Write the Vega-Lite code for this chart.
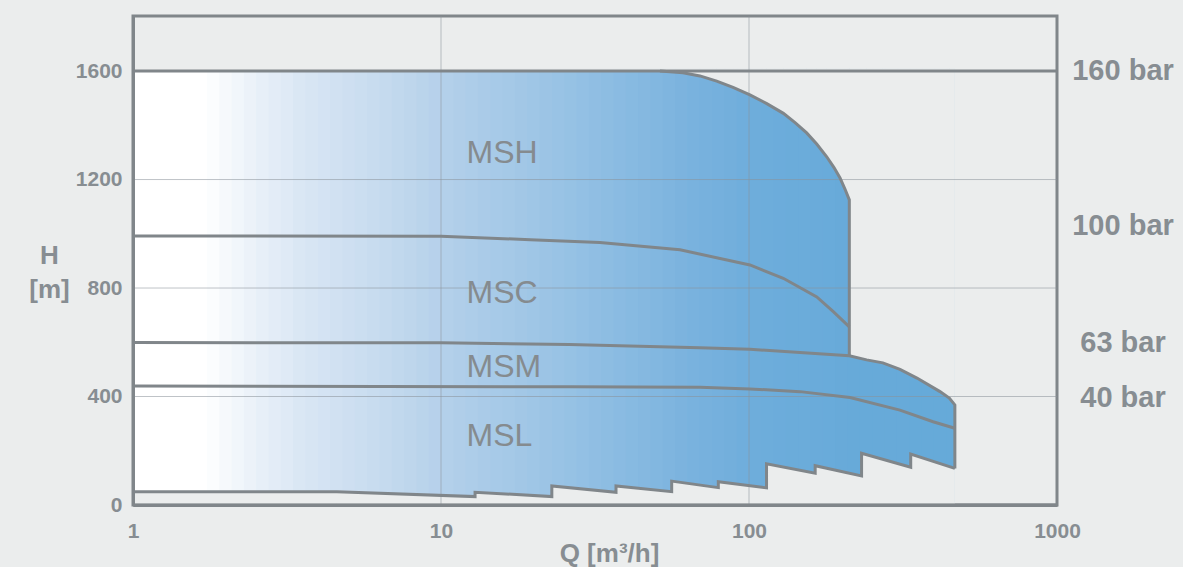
{
  "$schema": "https://vega.github.io/schema/vega-lite/v6.json",
  "width": 924,
  "height": 489,
  "autosize": {"type": "none"},
  "padding": {"left": 133, "top": 16, "right": 126, "bottom": 62},
  "background": "#ebeded",
  "config": {
    "view": {"stroke": "#80868a", "strokeWidth": 3, "fill": null},
    "font": "Liberation Sans",
    "axis": {
      "labelFont": "Liberation Sans",
      "labelFontSize": 21,
      "labelFontWeight": "bold",
      "labelColor": "#878d92",
      "titleFont": "Liberation Sans",
      "titleFontSize": 26,
      "titleFontWeight": "bold",
      "titleColor": "#878d92",
      "grid": false,
      "ticks": false,
      "tickSize": 0,
      "domain": true,
      "domainColor": "#80868a",
      "domainWidth": 3
    }
  },
  "datasets": {
    "shade": [
      {"Q": 1.012, "Q2": 1.1097}, {"Q": 1.0965, "Q2": 1.2167}, {"Q": 1.2023, "Q2": 1.3341}, {"Q": 1.3183, "Q2": 1.4627},
      {"Q": 1.4454, "Q2": 1.6039}, {"Q": 1.5849, "Q2": 1.7587}, {"Q": 1.7378, "Q2": 1.9284}, {"Q": 1.9055, "Q2": 2.1144},
      {"Q": 2.0893, "Q2": 2.3184}, {"Q": 2.2909, "Q2": 2.542}, {"Q": 2.5119, "Q2": 2.7872}, {"Q": 2.7542, "Q2": 3.0562},
      {"Q": 3.02, "Q2": 3.351}, {"Q": 3.3113, "Q2": 3.6744}, {"Q": 3.6308, "Q2": 4.0289}, {"Q": 3.9811, "Q2": 4.4176},
      {"Q": 4.3652, "Q2": 4.8437}, {"Q": 4.7863, "Q2": 5.3111}, {"Q": 5.2481, "Q2": 5.8235}, {"Q": 5.7544, "Q2": 6.3853},
      {"Q": 6.3096, "Q2": 7.0013}, {"Q": 6.9183, "Q2": 7.6768}, {"Q": 7.5858, "Q2": 8.4174}, {"Q": 8.3176, "Q2": 9.2295},
      {"Q": 9.1201, "Q2": 10.12}, {"Q": 10, "Q2": 11.097}, {"Q": 10.965, "Q2": 12.167}, {"Q": 12.023, "Q2": 13.341},
      {"Q": 13.183, "Q2": 14.627}, {"Q": 14.454, "Q2": 16.039}, {"Q": 15.849, "Q2": 17.587}, {"Q": 17.378, "Q2": 19.284},
      {"Q": 19.055, "Q2": 21.144}, {"Q": 20.893, "Q2": 23.184}, {"Q": 22.909, "Q2": 25.42}, {"Q": 25.119, "Q2": 27.872},
      {"Q": 27.542, "Q2": 30.562}, {"Q": 30.2, "Q2": 33.51}, {"Q": 33.113, "Q2": 36.744}, {"Q": 36.308, "Q2": 40.289},
      {"Q": 39.811, "Q2": 44.176}, {"Q": 43.652, "Q2": 48.437}, {"Q": 47.863, "Q2": 53.111}, {"Q": 52.481, "Q2": 58.235},
      {"Q": 57.544, "Q2": 63.853}, {"Q": 63.096, "Q2": 70.013}, {"Q": 69.183, "Q2": 76.768}, {"Q": 75.858, "Q2": 84.174},
      {"Q": 83.176, "Q2": 92.295}, {"Q": 91.201, "Q2": 101.2}, {"Q": 100, "Q2": 110.97}, {"Q": 109.65, "Q2": 121.67},
      {"Q": 120.23, "Q2": 133.41}, {"Q": 131.83, "Q2": 146.27}, {"Q": 144.54, "Q2": 160.39}, {"Q": 158.49, "Q2": 175.87},
      {"Q": 173.78, "Q2": 192.84}, {"Q": 190.55, "Q2": 211.44}, {"Q": 208.93, "Q2": 231.84}, {"Q": 229.09, "Q2": 254.2},
      {"Q": 251.19, "Q2": 278.72}, {"Q": 275.42, "Q2": 305.62}, {"Q": 302, "Q2": 335.1}, {"Q": 331.13, "Q2": 367.44},
      {"Q": 363.08, "Q2": 402.89}, {"Q": 398.11, "Q2": 441.76}, {"Q": 436.52, "Q2": 466}
    ],
    "envTop": [
      {"Q": 1, "H": 1600},
      {"Q": 51.4, "H": 1600},
      {"Q": 61.06, "H": 1594},
      {"Q": 69.3, "H": 1582},
      {"Q": 78.55, "H": 1563},
      {"Q": 88.76, "H": 1540},
      {"Q": 100.7, "H": 1512},
      {"Q": 114.2, "H": 1480},
      {"Q": 129.3, "H": 1444},
      {"Q": 141.1, "H": 1410},
      {"Q": 153.9, "H": 1372},
      {"Q": 165.9, "H": 1331},
      {"Q": 178.8, "H": 1284},
      {"Q": 188.8, "H": 1244},
      {"Q": 197.5, "H": 1206},
      {"Q": 204.9, "H": 1165},
      {"Q": 211.7, "H": 1125},
      {"Q": 211.8, "H": 550},
      {"Q": 241, "H": 535},
      {"Q": 272, "H": 524},
      {"Q": 309.2, "H": 500},
      {"Q": 351, "H": 468},
      {"Q": 417, "H": 418},
      {"Q": 447, "H": 394},
      {"Q": 466, "H": 369}
    ],
    "envBottom": [
      {"Q": 1.012, "H": 49},
      {"Q": 4.59, "H": 49},
      {"Q": 12.9, "H": 31},
      {"Q": 12.91, "H": 47},
      {"Q": 22.9, "H": 31},
      {"Q": 22.91, "H": 70},
      {"Q": 37, "H": 47},
      {"Q": 37.02, "H": 70},
      {"Q": 56.1, "H": 49},
      {"Q": 56.13, "H": 88},
      {"Q": 79.5, "H": 64},
      {"Q": 79.54, "H": 86},
      {"Q": 114, "H": 63},
      {"Q": 114.05, "H": 152},
      {"Q": 164, "H": 117},
      {"Q": 164.08, "H": 145},
      {"Q": 232, "H": 107},
      {"Q": 232.1, "H": 191},
      {"Q": 335, "H": 139},
      {"Q": 335.15, "H": 188},
      {"Q": 466, "H": 135}
    ],
    "curves": [
      {"s": "floor", "i": 0, "Q": 1, "H": 0},
      {"s": "floor", "i": 1, "Q": 1000, "H": 0},
      {"s": "top", "i": 0, "Q": 1, "H": 1600},
      {"s": "top", "i": 1, "Q": 1000, "H": 1600},
      {"s": "MSH", "i": 0, "Q": 51.4, "H": 1600},
      {"s": "MSH", "i": 1, "Q": 61.06, "H": 1594},
      {"s": "MSH", "i": 2, "Q": 69.3, "H": 1582},
      {"s": "MSH", "i": 3, "Q": 78.55, "H": 1563},
      {"s": "MSH", "i": 4, "Q": 88.76, "H": 1540},
      {"s": "MSH", "i": 5, "Q": 100.7, "H": 1512},
      {"s": "MSH", "i": 6, "Q": 114.2, "H": 1480},
      {"s": "MSH", "i": 7, "Q": 129.3, "H": 1444},
      {"s": "MSH", "i": 8, "Q": 141.1, "H": 1410},
      {"s": "MSH", "i": 9, "Q": 153.9, "H": 1372},
      {"s": "MSH", "i": 10, "Q": 165.9, "H": 1331},
      {"s": "MSH", "i": 11, "Q": 178.8, "H": 1284},
      {"s": "MSH", "i": 12, "Q": 188.8, "H": 1244},
      {"s": "MSH", "i": 13, "Q": 197.5, "H": 1206},
      {"s": "MSH", "i": 14, "Q": 204.9, "H": 1165},
      {"s": "MSH", "i": 15, "Q": 211.7, "H": 1125},
      {"s": "MSH", "i": 16, "Q": 211.7, "H": 550},
      {"s": "MSC", "i": 0, "Q": 1, "H": 992},
      {"s": "MSC", "i": 1, "Q": 10, "H": 991},
      {"s": "MSC", "i": 2, "Q": 19.5, "H": 978},
      {"s": "MSC", "i": 3, "Q": 32.8, "H": 968},
      {"s": "MSC", "i": 4, "Q": 59.7, "H": 941},
      {"s": "MSC", "i": 5, "Q": 100.7, "H": 885},
      {"s": "MSC", "i": 6, "Q": 129.2, "H": 836},
      {"s": "MSC", "i": 7, "Q": 166, "H": 767},
      {"s": "MSC", "i": 8, "Q": 187.8, "H": 713},
      {"s": "MSC", "i": 9, "Q": 211.7, "H": 657},
      {"s": "MSM", "i": 0, "Q": 1, "H": 599},
      {"s": "MSM", "i": 1, "Q": 10, "H": 598},
      {"s": "MSM", "i": 2, "Q": 26.1, "H": 592},
      {"s": "MSM", "i": 3, "Q": 69.3, "H": 580},
      {"s": "MSM", "i": 4, "Q": 100.7, "H": 574},
      {"s": "MSM", "i": 5, "Q": 211.7, "H": 550},
      {"s": "MSM", "i": 6, "Q": 241, "H": 535},
      {"s": "MSM", "i": 7, "Q": 272, "H": 524},
      {"s": "MSM", "i": 8, "Q": 309.2, "H": 500},
      {"s": "MSM", "i": 9, "Q": 351, "H": 468},
      {"s": "MSM", "i": 10, "Q": 417, "H": 418},
      {"s": "MSM", "i": 11, "Q": 447, "H": 394},
      {"s": "MSM", "i": 12, "Q": 466, "H": 369},
      {"s": "MSM", "i": 13, "Q": 466, "H": 135},
      {"s": "MSL", "i": 0, "Q": 1, "H": 439},
      {"s": "MSL", "i": 1, "Q": 26.1, "H": 436},
      {"s": "MSL", "i": 2, "Q": 69.3, "H": 434},
      {"s": "MSL", "i": 3, "Q": 100.7, "H": 428},
      {"s": "MSL", "i": 4, "Q": 146.5, "H": 418},
      {"s": "MSL", "i": 5, "Q": 212.8, "H": 396},
      {"s": "MSL", "i": 6, "Q": 309, "H": 350},
      {"s": "MSL", "i": 7, "Q": 396, "H": 307},
      {"s": "MSL", "i": 8, "Q": 466, "H": 283},
      {"s": "base", "i": 0, "Q": 1, "H": 49},
      {"s": "base", "i": 1, "Q": 4.59, "H": 49},
      {"s": "base", "i": 2, "Q": 12.9, "H": 31},
      {"s": "base", "i": 3, "Q": 12.9, "H": 47},
      {"s": "base", "i": 4, "Q": 22.9, "H": 31},
      {"s": "base", "i": 5, "Q": 22.9, "H": 70},
      {"s": "base", "i": 6, "Q": 37, "H": 47},
      {"s": "base", "i": 7, "Q": 37, "H": 70},
      {"s": "base", "i": 8, "Q": 56.1, "H": 49},
      {"s": "base", "i": 9, "Q": 56.1, "H": 88},
      {"s": "base", "i": 10, "Q": 79.5, "H": 64},
      {"s": "base", "i": 11, "Q": 79.5, "H": 86},
      {"s": "base", "i": 12, "Q": 114, "H": 63},
      {"s": "base", "i": 13, "Q": 114, "H": 152},
      {"s": "base", "i": 14, "Q": 164, "H": 117},
      {"s": "base", "i": 15, "Q": 164, "H": 145},
      {"s": "base", "i": 16, "Q": 232, "H": 107},
      {"s": "base", "i": 17, "Q": 232, "H": 191},
      {"s": "base", "i": 18, "Q": 335, "H": 139},
      {"s": "base", "i": 19, "Q": 335, "H": 188},
      {"s": "base", "i": 20, "Q": 466, "H": 135}
    ],
    "gridx": [{"Q": 10}, {"Q": 100}],
    "gridy": [{"H": 400}, {"H": 800}, {"H": 1200}],
    "regions": [
      {"Q": 12.1, "H": 1260, "label": "MSH"},
      {"Q": 12.1, "H": 746, "label": "MSC"},
      {"Q": 12.1, "H": 471, "label": "MSM"},
      {"Q": 12.1, "H": 218, "label": "MSL"}
    ],
    "pressure": [
      {"Q": 1000, "H": 1600, "label": "160 bar"},
      {"Q": 1000, "H": 1030, "label": "100 bar"},
      {"Q": 1000, "H": 596, "label": "63 bar"},
      {"Q": 1000, "H": 394, "label": "40 bar"}
    ]
  },
  "layer": [
    {
      "data": {"name": "shade"},
      "mark": {"type": "rect", "opacity": 1},
      "encoding": {
        "x": {
          "field": "Q", "type": "quantitative",
          "scale": {"type": "log", "domain": [1, 1000], "nice": false},
          "axis": {
            "values": [1, 10, 100, 1000],
            "format": "d",
            "labelPadding": 15,
            "labelFlush": false,
            "title": "Q [m³/h]",
            "titleX": 476,
            "titleY": 56,
            "titleAlign": "center",
            "titleBaseline": "alphabetic",
            "zindex": 2
          }
        },
        "x2": {"field": "Q2"},
        "y": {
          "datum": 7, "type": "quantitative",
          "scale": {"domain": [0, 1803], "nice": false, "zero": true},
          "axis": {
            "values": [0, 400, 800, 1200, 1600],
            "format": "d",
            "labelPadding": 11,
            "title": ["H", "[m]"],
            "titleAngle": 0,
            "titleX": -84,
            "titleY": 247,
            "titleAlign": "center",
            "titleBaseline": "alphabetic",
            "titleLineHeight": 34,
            "zindex": 2
          }
        },
        "y2": {"datum": 1610},
        "fill": {
          "field": "Q", "type": "quantitative", "legend": null,
          "scale": {
            "type": "log",
            "domain": [1, 1.63, 2.36, 3.42, 6.32, 9.72, 26, 59, 100, 209, 466],
            "range": ["#ffffff", "#ffffff", "#eaf1f9", "#d9e6f4", "#c5daee", "#b4d0ea", "#95c1e4", "#7bb3de", "#6eaddb", "#67aad9", "#66aad9"],
            "interpolate": "rgb"
          }
        }
      }
    },
    {
      "data": {"name": "envTop"},
      "mark": {"type": "area", "orient": "vertical", "fill": "#ebeded", "fillOpacity": 1, "stroke": "#ebeded", "strokeWidth": 1},
      "encoding": {
        "x": {"field": "Q", "type": "quantitative", "scale": {"type": "log", "domain": [1, 1000], "nice": false}},
        "y": {"field": "H", "type": "quantitative", "stack": null, "scale": {"domain": [0, 1803], "nice": false, "zero": true}},
        "y2": {"datum": 1610}
      }
    },
    {
      "data": {"name": "envBottom"},
      "mark": {"type": "area", "orient": "vertical", "fill": "#ebeded", "fillOpacity": 1, "stroke": "#ebeded", "strokeWidth": 1},
      "encoding": {
        "x": {"field": "Q", "type": "quantitative", "scale": {"type": "log", "domain": [1, 1000], "nice": false}},
        "y": {"field": "H", "type": "quantitative", "stack": null, "scale": {"domain": [0, 1803], "nice": false, "zero": true}},
        "y2": {"datum": 7}
      }
    },
    {
      "data": {"name": "gridx"},
      "mark": {"type": "rule", "color": "#8a9299", "opacity": 0.55, "strokeWidth": 1},
      "encoding": {
        "x": {"field": "Q", "type": "quantitative", "scale": {"type": "log", "domain": [1, 1000], "nice": false}}
      }
    },
    {
      "data": {"name": "gridy"},
      "mark": {"type": "rule", "color": "#8a9299", "opacity": 0.55, "strokeWidth": 1},
      "encoding": {
        "y": {"field": "H", "type": "quantitative", "scale": {"domain": [0, 1803], "nice": false, "zero": true}}
      }
    },
    {
      "data": {"name": "curves"},
      "mark": {"type": "line", "color": "#80868a", "strokeWidth": 3, "strokeJoin": "miter"},
      "encoding": {
        "x": {"field": "Q", "type": "quantitative", "scale": {"type": "log", "domain": [1, 1000], "nice": false}},
        "y": {"field": "H", "type": "quantitative", "scale": {"domain": [0, 1803], "nice": false, "zero": true}},
        "detail": {"field": "s", "type": "nominal"},
        "order": {"field": "i", "type": "quantitative"}
      }
    },
    {
      "data": {"name": "regions"},
      "mark": {"type": "text", "align": "left", "baseline": "alphabetic", "font": "Liberation Sans", "fontSize": 32, "color": "#858b8f"},
      "encoding": {
        "x": {"field": "Q", "type": "quantitative", "scale": {"type": "log", "domain": [1, 1000], "nice": false}},
        "y": {"field": "H", "type": "quantitative", "scale": {"domain": [0, 1803], "nice": false, "zero": true}},
        "text": {"field": "label"}
      }
    },
    {
      "data": {"name": "pressure"},
      "mark": {"type": "text", "align": "center", "baseline": "middle", "dx": 66, "font": "Liberation Sans", "fontSize": 29, "fontWeight": "bold", "color": "#878d92"},
      "encoding": {
        "x": {"field": "Q", "type": "quantitative", "scale": {"type": "log", "domain": [1, 1000], "nice": false}},
        "y": {"field": "H", "type": "quantitative", "scale": {"domain": [0, 1803], "nice": false, "zero": true}},
        "text": {"field": "label"}
      }
    }
  ]
}
